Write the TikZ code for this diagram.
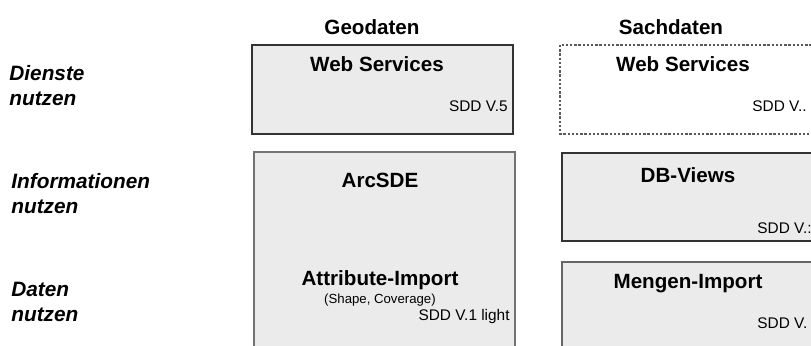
\documentclass[tikz,border=0pt]{standalone}
\usepackage{fontspec}
\setmainfont{Liberation Sans}
\usetikzlibrary{positioning}

\begin{document}
\begin{tikzpicture}[x=0.5pt,y=-0.5pt,
  box/.style={fill=black!8,draw=black!80,line width=0.6pt},
  dashbox/.style={draw=black!65,line width=0.55pt,dash pattern=on 1.2pt off 0.9pt},
  head/.style={font=\bfseries\fontsize{10.3}{12}\selectfont},
  title/.style={font=\bfseries\fontsize{10.3}{12}\selectfont},
  ver/.style={font=\fontsize{7.7}{9}\selectfont,inner sep=0pt},
  note/.style={font=\fontsize{6.6}{8}\selectfont,inner sep=0pt},
  level/.style={font=\bfseries\itshape\fontsize{10.4}{12.5}\selectfont,align=left,anchor=west,inner sep=0pt}]
  \useasboundingbox (0,0) rectangle (811,345);
  \clip (0,0) rectangle (811,345);
  % column heads
  \node[head] (geo) at (372,27) {Geodaten};
  \node[head] (sach) at (671,27) {Sachdaten};
  % levels
  \node[level] (dienste) at (9,86) {Dienste\\nutzen};
  \node[level] (info) at (11,194) {Informationen\\nutzen};
  \node[level] (daten) at (11,302) {Daten\\nutzen};
  % boxes
  \draw[box] (252,45) rectangle (513,134);
  \draw[dashbox] (560,45) rectangle (830,134);
  \draw[box,draw=black!55] (254,152) rectangle (515,370);
  \draw[box] (562,153) rectangle (830,241);
  \draw[box,draw=black!60] (562,262) rectangle (830,370);
  % texts
  \node[title] (geoweb) at (377,64) {Web Services};
  \node[ver,anchor=east] (geowebv) at (508,106) {SDD V.5};
  \node[title] (sachweb) at (683,64) {Web Services};
  \node[ver,anchor=west] (sachwebv) at (752,106) {SDD V..};
  \node[title] (arcsde) at (380,180) {ArcSDE};
  \node[title] (attr) at (380,280) {Attribute-Import};
  \node[note] (shape) at (380,300) {(Shape, Coverage)};
  \node[ver,anchor=east] (arcv) at (510,317) {SDD V.1 light};
  \node[title] (views) at (688,175) {DB-Views};
  \node[ver,anchor=west] (viewsv) at (757,228) {SDD V.:};
  \node[title] (mengen) at (688,284) {Mengen-Import};
  \node[ver,anchor=west] (mengenv) at (757,323) {SDD V.};
\end{tikzpicture}
\end{document}
